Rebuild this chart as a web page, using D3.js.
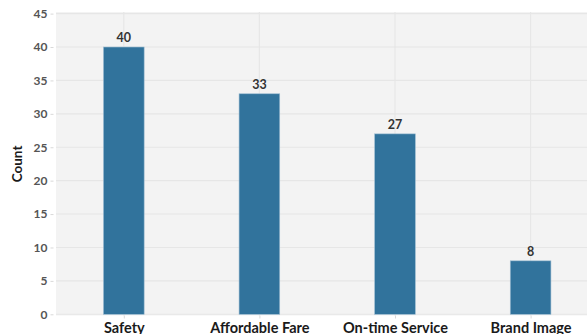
<!DOCTYPE html>
<html>
<head>
<meta charset="utf-8">
<script src="https://cdn.jsdelivr.net/npm/d3@7"></script>
<style>
  html, body { margin: 0; padding: 0; background: #ffffff; }
  svg { display: block; font-family: Lato, "Noto Sans", sans-serif; }
</style>
</head>
<body>
<svg id="chart" width="587" height="334"></svg>
<script>
// Reasons cited, with how many respondents chose each
const categories = ["Safety", "Affordable Fare", "On-time Service", "Brand Image"];
const counts = [40, 33, 27, 8];
const yTicks = [0, 5, 10, 15, 20, 25, 30, 35, 40, 45];

const svg = d3.select("#chart");

// Panel geometry (the panel runs past the right edge of the canvas)
const panel = { left: 56, right: 598.4, top: 12, bottom: 315.5 };

const x = d3.scalePoint()
  .domain(categories)
  .range([panel.left, panel.right])
  .padding(0.5);

const y = d3.scaleLinear()
  .domain([0, 45])
  .range([314.3, 13.6]);

const barWidth = x.step() * 0.3;

// Panel background
svg.append("rect")
  .attr("x", panel.left)
  .attr("y", panel.top)
  .attr("width", panel.right - panel.left)
  .attr("height", panel.bottom - panel.top)
  .attr("fill", "#f3f3f3");

// Grid lines
const grid = svg.append("g").attr("stroke", "#e6e6e6").attr("stroke-width", 1.1);
grid.selectAll("line.h")
  .data(yTicks)
  .join("line")
  .attr("class", "h")
  .attr("x1", panel.left)
  .attr("x2", panel.right)
  .attr("y1", d => y(d))
  .attr("y2", d => y(d));
grid.selectAll("line.v")
  .data(categories)
  .join("line")
  .attr("class", "v")
  .attr("x1", d => x(d))
  .attr("x2", d => x(d))
  .attr("y1", panel.top)
  .attr("y2", panel.bottom);

// Bars
svg.append("g")
  .selectAll("rect")
  .data(categories)
  .join("rect")
  .attr("x", d => x(d) - barWidth / 2)
  .attr("width", barWidth)
  .attr("y", (d, i) => y(counts[i]))
  .attr("height", (d, i) => y(0) - y(counts[i]))
  .attr("fill", "#31739c")
  .attr("stroke", "#9dbcd2")
  .attr("stroke-width", 0.6);

// Value labels above bars
svg.append("g")
  .selectAll("text")
  .data(categories)
  .join("text")
  .attr("x", d => x(d))
  .attr("y", (d, i) => y(counts[i]) - 5)
  .attr("text-anchor", "middle")
  .attr("font-size", 12.5)
  .attr("font-weight", 700)
  .attr("fill", "#333333")
  .text((d, i) => counts[i]);

// Y axis
const yAxis = d3.axisLeft(y)
  .tickValues(yTicks)
  .tickSize(3)
  .tickPadding(3);
const gy = svg.append("g")
  .attr("transform", `translate(${panel.left - 2.5},0)`)
  .call(yAxis);
gy.select(".domain").remove();
gy.selectAll(".tick line").attr("stroke", "#d9d9d9");
gy.selectAll(".tick text")
  .attr("font-family", "Lato, 'Noto Sans', sans-serif")
  .attr("font-size", 12)
  .attr("font-weight", 700)
  .attr("fill", "#555555");

// X axis
const xAxis = d3.axisBottom(x).tickSize(3).tickPadding(4);
const gx = svg.append("g")
  .attr("transform", `translate(0,${panel.bottom})`)
  .call(xAxis);
gx.select(".domain").remove();
gx.selectAll(".tick line").attr("stroke", "#d9d9d9");
gx.selectAll(".tick text")
  .attr("font-family", "Lato, 'Noto Sans', sans-serif")
  .attr("font-size", 14.5)
  .attr("font-weight", 700)
  .attr("fill", "#1a1a1a");

// Y axis title
svg.append("text")
  .attr("transform", `translate(22,${(y(0) + y(45)) / 2}) rotate(-90)`)
  .attr("text-anchor", "middle")
  .attr("font-size", 13.5)
  .attr("font-weight", 700)
  .attr("fill", "#1a1a1a")
  .text("Count");
</script>
</body>
</html>
